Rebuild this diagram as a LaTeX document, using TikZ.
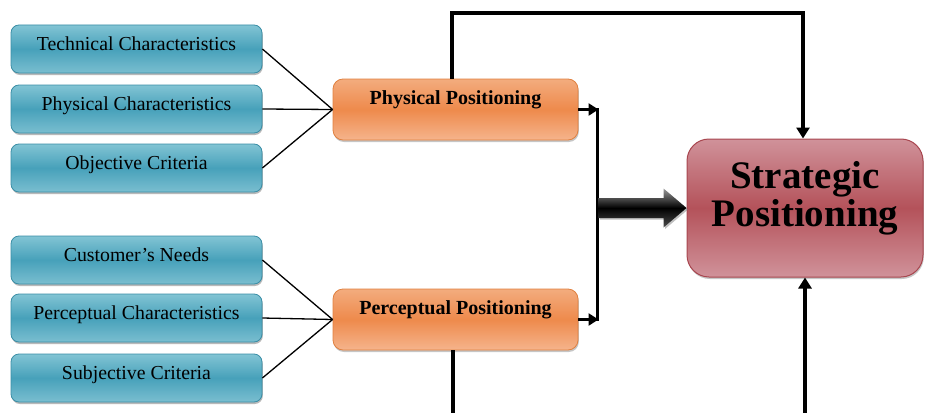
\documentclass[tikz,border=0pt]{standalone}
\usepackage{fontspec}
\setmainfont{Liberation Serif}
\usetikzlibrary{arrows.meta,shadows,calc}
\definecolor{bluetop}{HTML}{82C4D4}
\definecolor{bluemid}{HTML}{47A1BA}
\definecolor{bluebot}{HTML}{7ABED0}
\definecolor{blueborder}{HTML}{3A8EA6}
\definecolor{orgtop}{HTML}{F3AC7E}
\definecolor{orgmid}{HTML}{EE8A4C}
\definecolor{orgbot}{HTML}{F5B48C}
\definecolor{orgborder}{HTML}{E0803F}
\definecolor{redtop}{HTML}{D0929A}
\definecolor{redmid}{HTML}{B4525A}
\definecolor{redbot}{HTML}{D0929A}
\definecolor{redborder}{HTML}{A8464F}
\begin{document}
\begin{tikzpicture}[x=1pt,y=-1pt,
  bluebox/.style={rectangle, rounded corners=8pt, draw=blueborder, line width=0.8pt,
    top color=bluetop, bottom color=bluebot, middle color=bluemid,
    minimum width=251pt, minimum height=48pt, inner sep=0pt,
    font=\fontsize{19.8}{22}\selectfont, text height=14pt, text depth=10.4pt,
    drop shadow={shadow xshift=0.8pt, shadow yshift=-2pt, opacity=0.55}},
  orgbox/.style={rectangle, rounded corners=10pt, draw=orgborder, line width=0.8pt,
    top color=orgtop, bottom color=orgbot, middle color=orgmid,
    minimum width=245pt, minimum height=61pt, inner sep=0pt,
    font=\fontsize{20}{22}\selectfont\bfseries, text height=14pt, text depth=23.4pt,
    drop shadow={shadow xshift=0.8pt, shadow yshift=-2pt, opacity=0.45}},
  redbox/.style={rectangle, rounded corners=22pt, draw=redborder, line width=1pt,
    top color=redtop, bottom color=redbot, middle color=redmid,
    minimum width=236pt, minimum height=138pt, inner sep=0pt,
    font=\fontsize{39}{38}\selectfont\bfseries,
    drop shadow={shadow xshift=0.8pt, shadow yshift=-2pt, opacity=0.45}},
  thinline/.style={line width=1.3pt, black},
  thickline/.style={line width=3.5pt, black},
  barline/.style={line width=3pt, black},
  tiparrow/.style={-{Triangle[length=11pt,width=13pt]}},
  smallarrow/.style={-{Triangle[length=10pt,width=12pt]}}
]
\useasboundingbox (0,0) rectangle (925,412);

% left boxes
\node[bluebox] (tc) at (136.5,49) {Technical Characteristics};
\node[bluebox] (pc) at (136.5,109) {Physical Characteristics};
\node[bluebox] (oc) at (136.5,168) {Objective Criteria};
\node[bluebox] (cn) at (136.5,260) {Customer's Needs};
\node[bluebox] (qc) at (136.5,318) {Perceptual Characteristics};
\node[bluebox] (sc) at (136.5,378) {Subjective Criteria};

% middle boxes
\node[orgbox] (pp) at (455.5,109.5) {Physical Positioning};
\node[orgbox] (qp) at (455.5,319.5) {Perceptual Positioning};

% strategic
\node[redbox] (st) at (805,208) {\raisebox{2pt}[0pt][0pt]{\begin{tabular}{@{}c@{}}Strategic\\Positioning\end{tabular}}};

% converging lines
\draw[thinline] (tc.east) -- (pp.west);
\draw[thinline] (pc.east) -- (pp.west);
\draw[thinline] (oc.east) -- (pp.west);
\draw[thinline] (cn.east) -- (qp.west);
\draw[thinline] (qc.east) -- (qp.west);
\draw[thinline] (sc.east) -- (qp.west);

% bracket
\coordinate (barx) at (597,0);
\coordinate (bt) at (pp.east -| barx);
\coordinate (bb) at (qp.east -| barx);
\draw[barline, smallarrow] (pp.east) -- ([xshift=1.5pt]bt);
\draw[barline, smallarrow] (qp.east) -- ([xshift=1.5pt]bb);
\draw[barline, line cap=rect] (bt) -- (bb);

% big arrow
\coordinate (bm) at (st.west -| barx);
\shade[top color=gray!80, bottom color=black!70, middle color=black,
  drop shadow={shadow xshift=1.5pt, shadow yshift=-1.5pt, opacity=0.5}]
  ($(bm)+(1.5,-10)$) -- ($(st.west)+(-23,-10)$) -- ($(st.west)+(-23,-19.5)$)
  -- (st.west) -- ($(st.west)+(-23,19.5)$) -- ($(st.west)+(-23,10)$)
  -- ($(bm)+(1.5,10)$) -- cycle;

% top loop
\coordinate (topy) at (0,13);
\coordinate (pn) at ([xshift=-3.5pt]pp.north);
\coordinate (sn) at ([xshift=-2pt]st.north);
\draw[thickline, tiparrow] (pn) -- (pn |- topy) -- (sn |- topy) -- (sn);

% bottom lines
\coordinate (boty) at (0,414);
\coordinate (qs) at ([xshift=-2.5pt]qp.south);
\draw[thickline] (qs) -- (qs |- boty);
\coordinate (ss) at (st.south);
\draw[thickline, tiparrow] (ss |- boty) -- (ss);
\end{tikzpicture}
\end{document}
